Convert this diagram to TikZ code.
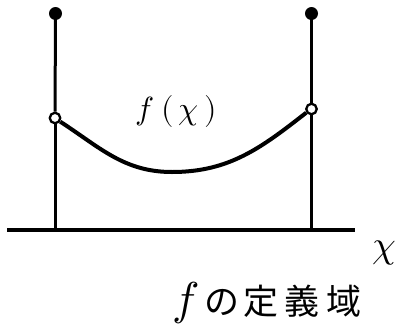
\documentclass[tikz,border=0pt]{standalone}
\usepackage{fontspec}
\usepackage{unicode-math}
\setmathfont{Latin Modern Math}
\newfontfamily\jpfont{Noto Sans CJK JP}
\begin{document}
\begin{tikzpicture}[x=1pt,y=1pt,
  filled/.style={circle,fill=black,inner sep=0pt,minimum size=13pt},
  hollow/.style={circle,draw=black,fill=white,line width=2.3pt,inner sep=0pt,minimum size=10.5pt},
  stem/.style={line width=3pt},
  graphline/.style={line width=4pt},
  axisline/.style={line width=3.4pt},
  lbl/.style={inner sep=0pt,font=\fontsize{32}{36}\selectfont}]
\useasboundingbox (0,0) rectangle (397,-330);
% axis
\coordinate (ax0) at (7,-230);
\coordinate (ax1) at (355,-230);
\draw[axisline] (ax0) -- (ax1);
\coordinate (lb) at (55,-230);
\coordinate (rb) at (311.5,-230);
% stems
\node[filled] (lt) at (55.5,-13.5) {};
\node[filled] (rt) at (311.5,-13.5) {};
\node[hollow] (lo) at (55,-118) {};
\node[hollow] (ro) at (311.5,-109) {};
\draw[stem] (lt) -- (lo);
\draw[stem] (lo) -- (lb);
\draw[stem] (rt) -- (ro);
\draw[stem] (ro) -- (rb);
% curve
\coordinate (m) at (172,-172);
\draw[graphline] (lo.-35) to[out=-33,in=180] (m) to[out=0,in=-142] (ro.-145);
% labels
\node[lbl] (fx) at (176,-111) {$f\mkern4mu(\mkern3mu\chi\mkern3mu)$};
\node[lbl,font=\fontsize{38}{40}\selectfont] (xl) at (384,-253) {$\chi$};
\node[lbl,anchor=base west] (dom) at (172,-314) {{\fontsize{46}{50}\selectfont$f$}\hspace{6pt}{\jpfont\fontsize{35}{40}\selectfont の\hspace{4pt}定\hspace{6pt}義\hspace{7pt}域}};
\end{tikzpicture}
\end{document}
